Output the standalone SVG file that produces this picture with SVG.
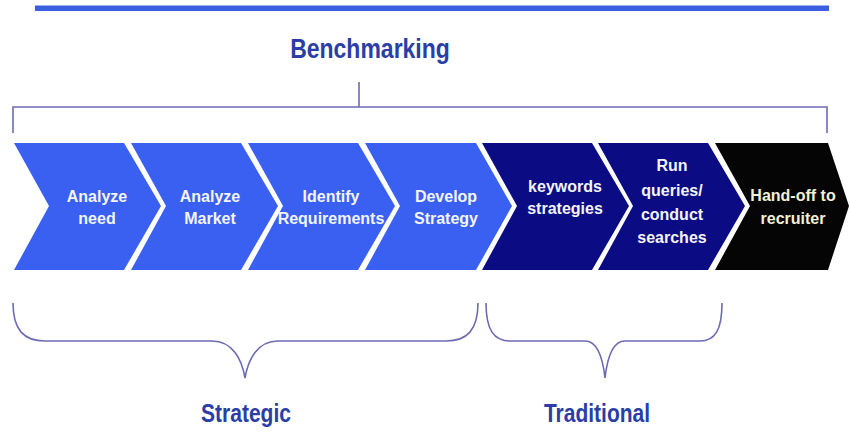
<svg xmlns="http://www.w3.org/2000/svg" width="850" height="432" viewBox="0 0 850 432">
<style>
.lbl{font-family:"Liberation Sans",Arial,sans-serif;font-weight:bold;font-size:16px;text-anchor:middle}
.lt{fill:#f3f5fb}
.lk{fill:#f2f0d6}
.big{font-family:"Liberation Sans",Arial,sans-serif;font-weight:bold;font-size:21px;fill:#2a3ea6;text-anchor:middle}
.br{fill:none;stroke:#6b6bb3;stroke-width:1.6}
.c1{fill:#3a60f2}
.c2{fill:#0b0b84}
.c3{fill:#050505}
</style>
<rect width="850" height="432" fill="#ffffff"/>
<rect x="35" y="5.5" width="794" height="5.5" fill="#3a5fe0"/>
<g id="benchmarking">
<text class="big" transform="translate(370,58) scale(1,1.2)" style="font-size:23px">Benchmarking</text>
</g>
<g id="connectors">
<path class="br" d="M359,82 L359,107"/>
<path class="br" d="M13,133 L13,107 L827,107 L827,133"/>
<path class="br" d="M13,303 C13,330 24,341 45,341 L212,341 C233,341 242,360 245,378 C248,360 257,341 278,341 L446,341 C467,341 478,330 478,303"/>
<path class="br" d="M486,303 C486,330 494,341 510,341 L585,341 C598,341 603,360 605,378 C607,360 612,341 625,341 L700,341 C715,341 722,330 722,303"/>
</g>
<g id="n1">
<polygon class="c1" points="14,143 124,143 161,206 124,270 14,270 49,206"/>
<text class="lbl lt" x="97" y="202">Analyze</text>
<text class="lbl lt" x="97" y="224">need</text>
</g>
<g id="n2">
<polygon class="c1" points="131,143 241,143 278,206 241,270 131,270 166,206"/>
<text class="lbl lt" x="210" y="202">Analyze</text>
<text class="lbl lt" x="210" y="224">Market</text>
</g>
<g id="n3">
<polygon class="c1" points="248,143 358,143 395,206 358,270 248,270 283,206"/>
<text class="lbl lt" x="331" y="202">Identify</text>
<text class="lbl lt" x="331" y="224">Requirements</text>
</g>
<g id="n4">
<polygon class="c1" points="365,143 476,143 512,206 476,270 365,270 400,206"/>
<text class="lbl lt" x="446" y="202">Develop</text>
<text class="lbl lt" x="446" y="224">Strategy</text>
</g>
<g id="n5">
<polygon class="c2" points="482,143 592,143 629,206 592,270 482,270 517,206"/>
<text class="lbl lt" x="565" y="192">keywords</text>
<text class="lbl lt" x="565" y="214">strategies</text>
</g>
<g id="n6">
<polygon class="c2" points="598,143 708,143 745,206 708,270 598,270 633,206"/>
<text class="lbl lt" x="672" y="171">Run</text>
<text class="lbl lt" x="672" y="196">queries/</text>
<text class="lbl lt" x="672" y="220">conduct</text>
<text class="lbl lt" x="672" y="243">searches</text>
</g>
<g id="n7">
<polygon class="c3" points="715,143 828,143 849,206 828,270 715,270 750,206"/>
<text class="lbl lk" x="793" y="201">Hand-off to</text>
<text class="lbl lk" x="793" y="224">recruiter</text>
</g>
<g id="strategic">
<text class="big" transform="translate(246,422) scale(1,1.2)">Strategic</text>
</g>
<g id="traditional">
<text class="big" transform="translate(597,422) scale(1,1.2)">Traditional</text>
</g>
</svg>
